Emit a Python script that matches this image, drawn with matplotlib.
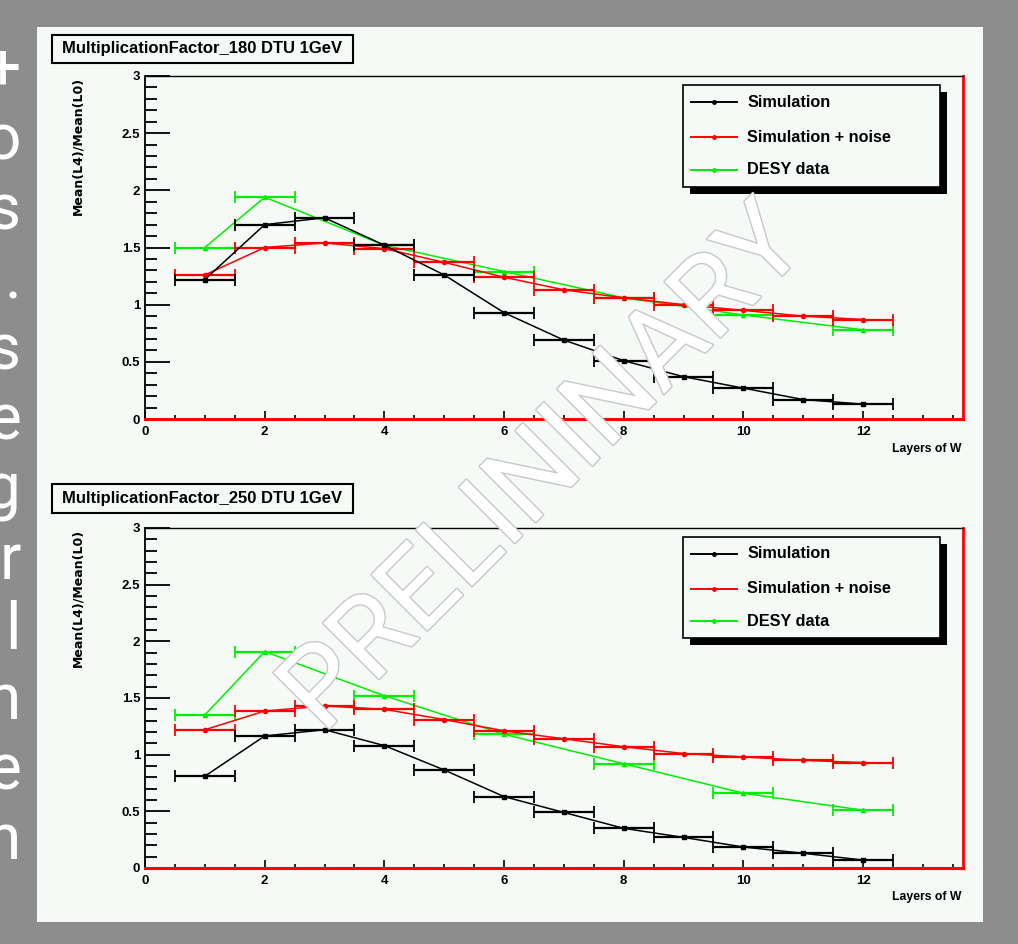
import matplotlib
matplotlib.use("Agg")
from matplotlib import pyplot as plt
from matplotlib.patches import Rectangle
from matplotlib.ticker import MultipleLocator, FuncFormatter
import matplotlib.patheffects as pe
import numpy as np

layers = np.arange(1, 13)
desy_layers = np.array([1, 2, 4, 6, 8, 10, 12])

sim_180 = [1.22, 1.70, 1.76, 1.52, 1.26, 0.93, 0.69, 0.51, 0.37, 0.27, 0.17, 0.13]
noise_180 = [1.26, 1.50, 1.54, 1.49, 1.37, 1.24, 1.13, 1.06, 1.00, 0.95, 0.90, 0.87]
desy_180 = [1.50, 1.94, 1.52, 1.29, 1.06, 0.91, 0.78]

sim_250 = [0.81, 1.165, 1.22, 1.08, 0.865, 0.63, 0.49, 0.35, 0.27, 0.185, 0.13, 0.07]
noise_250 = [1.22, 1.385, 1.43, 1.40, 1.31, 1.21, 1.14, 1.07, 1.01, 0.98, 0.95, 0.93]
desy_250 = [1.35, 1.91, 1.52, 1.18, 0.92, 0.66, 0.51]

titles = ["MultiplicationFactor_180 DTU 1GeV", "MultiplicationFactor_250 DTU 1GeV"]
labels = ["Simulation", "Simulation + noise", "DESY data"]
colors = ["black", "#ff0000", "#00ee00"]
slide_letters = ["+", "o", "s", ".", "s", "e", "g", "r", "l", "n", "e", "n"]

plt.rcParams['font.family'] = ['Liberation Sans', 'DejaVu Sans']
plt.rcParams['font.weight'] = 'bold'

W, H = 1018, 944
panel = '#f5faf6'


def fx(px):
    return px / W


def fy(py):
    return 1 - py / H


fig = plt.figure(figsize=(W / 100, H / 100), dpi=100)
fig.patch.set_facecolor('#8d8d8d')

# light canvas, drawn under the axes
fig.patches.append(Rectangle((fx(37), fy(922)), fx(983) - fx(37), fy(27) - fy(922),
                             transform=fig.transFigure, facecolor=panel,
                             edgecolor='none', zorder=-5))

# bits of slide text left of the canvas
for i, ch in enumerate(slide_letters):
    fig.text(fx(21), fy(71 + 70 * i), ch, color='white', fontsize=46,
             family=['Roboto', 'DejaVu Sans'], weight='normal',
             ha='right', va='center', zorder=-4)

pads = [(76, 419, 35, 63, 449), (528, 868, 484, 513, 897)]
datas = [(sim_180, noise_180, desy_180), (sim_250, noise_250, desy_250)]

for (top, bot, ttop, tbot, xlab_y), (sim, noise, desy), title in zip(pads, datas, titles):
    ax = fig.add_axes([fx(145), fy(bot), (963 - 145) / W, (bot - top) / H])
    ax.set_facecolor(panel)
    ax.set_xlim(0, 13.67)
    ax.set_ylim(0, 3)

    for x, y, c, m in [(desy_layers, desy, colors[2], '^'),
                       (layers, noise, colors[1], 'o'),
                       (layers, sim, colors[0], 's')]:
        ax.plot(x, y, color=c, lw=1.1, zorder=3)
        ax.errorbar(x, y, xerr=0.5, fmt='none', ecolor=c, elinewidth=1.6,
                    capsize=4, capthick=1.3, zorder=3)
        ax.plot(x, y, ls='none', marker=m, ms=3, color=c, zorder=4)

    ax.spines['top'].set_color('black')
    ax.spines['top'].set_linewidth(1.0)
    ax.spines['left'].set_linewidth(1.3)
    ax.spines['right'].set_color('#ff0000')
    ax.spines['right'].set_linewidth(2)
    ax.spines['bottom'].set_color('#ff0000')
    ax.spines['bottom'].set_linewidth(2.2)

    ax.yaxis.set_major_locator(MultipleLocator(0.5))
    ax.yaxis.set_minor_locator(MultipleLocator(0.1))
    ax.xaxis.set_major_locator(MultipleLocator(2))
    ax.xaxis.set_minor_locator(MultipleLocator(0.5))
    fmt = FuncFormatter(lambda v, _: f"{v:g}")
    ax.yaxis.set_major_formatter(fmt)
    ax.xaxis.set_major_formatter(fmt)
    ax.tick_params(axis='y', which='major', direction='in', length=18, width=1.3,
                   pad=3.5, labelsize=9.5)
    ax.tick_params(axis='y', which='minor', direction='in', length=8.6, width=1.3)
    ax.tick_params(axis='x', which='major', direction='in', length=6, width=1.2,
                   pad=5, labelsize=9.5)
    ax.tick_params(axis='x', which='minor', direction='in', length=3, width=1.2)

    # legend with ROOT style shadow
    x0, x1, y0, y1 = 0.658, 0.972, 0.676, 0.974
    dx, dy = 7 / 818, 7 / 343
    ax.add_patch(Rectangle((x0 + dx, y0 - dy), x1 - x0, y1 - y0, transform=ax.transAxes,
                           facecolor='black', edgecolor='none', zorder=6))
    ax.add_patch(Rectangle((x0, y0), x1 - x0, y1 - y0, transform=ax.transAxes,
                           facecolor=panel, edgecolor='black', lw=1.2, zorder=7))
    for ly, lab, c in zip([0.924, 0.822, 0.726], labels, colors):
        ax.plot([0.668, 0.724], [ly, ly], transform=ax.transAxes, color=c, lw=1.4, zorder=8)
        ax.plot([0.696], [ly], transform=ax.transAxes, marker='o', ms=2.5, color=c, zorder=8)
        ax.text(0.736, ly, lab, transform=ax.transAxes, va='center', fontsize=11.7,
                zorder=8)

    # title box
    fig.patches.append(Rectangle((fx(52), fy(tbot)), fx(353) - fx(52), fy(ttop) - fy(tbot),
                                 transform=fig.transFigure, facecolor=panel,
                                 edgecolor='black', lw=1.5, zorder=2))
    fig.text(fx(202), fy((ttop + tbot) / 2), title, ha='center', va='center',
             fontsize=12, zorder=3)

    fig.text(fx(78), fy(top + 1), "Mean(L4)/Mean(L0)", rotation=90, ha='center',
             va='top', fontsize=9, family=['DejaVu Sans'])
    fig.text(fx(962), fy(xlab_y), "Layers of W", ha='right', va='center', fontsize=8.8)

fig.text(0.535, 0.502, "PRELININARY", rotation=45, rotation_mode='anchor',
         ha='center', va='center', fontsize=80, color='white',
         family=['Roboto', 'DejaVu Sans'], weight='normal', zorder=20,
         path_effects=[pe.withStroke(linewidth=2, foreground='#c8c8c8')])

fig.savefig("out.png", dpi=100, facecolor=fig.get_facecolor())
